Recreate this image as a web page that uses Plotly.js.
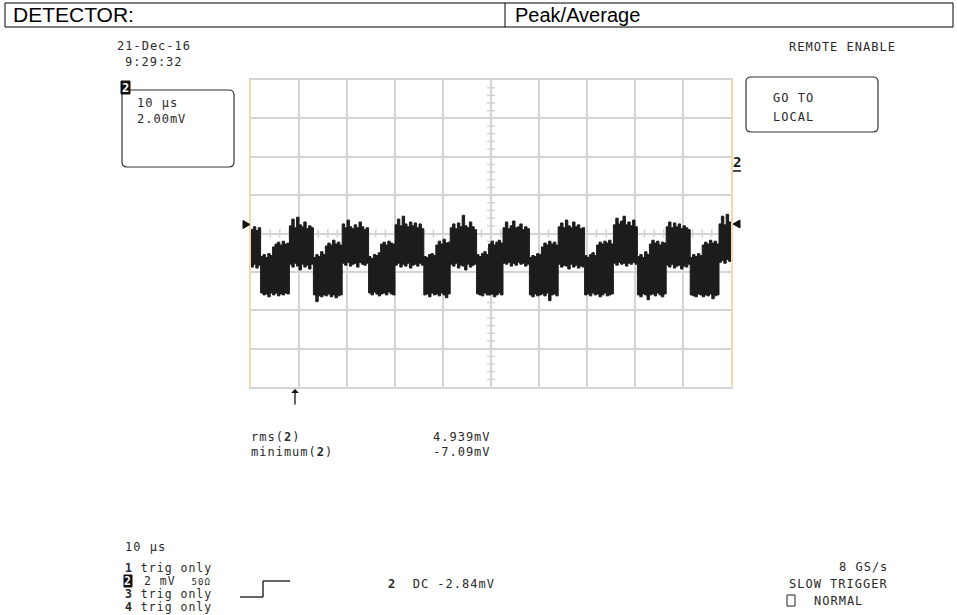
<!DOCTYPE html>
<html>
<head>
<meta charset="utf-8">
<script src="https://cdn.plot.ly/plotly-3.0.1.min.js"></script>
<style>
html,body{margin:0;padding:0;background:#fff;}
#chart{width:957px;height:615px;}
text[style*="DejaVu Sans Mono"]{letter-spacing:1px;}
</style>
</head>
<body>
<div id="chart"></div>
<script>
// ---- Data (mV vs µs; 0.5 µs per sample) ----
const sampleInterval = 0.5; // µs
const timeDivs = 10, timePerDiv = 10;   // 10 µs/div
const voltDivs = 8, voltPerDiv = 2;     // 2 mV/div

// upper envelope of the noisy trace (mV)
const upperEnv = [
  0.2, 0.35, 0.15, 0.3,
  -1.2, -1.1, -1.25, -1.05, -1.15,
  -0.7, -0.55, -0.45, -0.6, -0.4, -0.55, -0.5,
  0.4, 0.75, 0.3, 0.85, 0.45, 0.35, 0.6, 0.25, 0.4, 0.3,
  -1.25, -1.1, -1.2, -0.95, -1.1,
  -0.65, -0.5, -0.6, -0.35, -0.55, -0.45, -0.6,
  0.5, 0.3, 0.7, 0.35, 0.25, 0.45, 0.3, 0.6, 0.35, 0.2, 0.3,
  -1.2, -1.3, -1.1, -1.15, -1.0,
  -0.55, -0.45, -0.6, -0.4, -0.5, -0.55,
  0.45, 0.75, 0.4, 0.9, 0.5, 0.35, 0.6, 0.4, 0.55, 0.3, 0.5, 0.25,
  -1.2, -1.25, -1.1, -1.05, -1.15,
  -0.6, -0.4, -0.55, -0.3, -0.5, -0.45,
  0.3, 0.5, 0.25, 0.55, 0.35, 0.95, 0.4, 0.3, 0.6, 0.35, 0.2,
  -1.1, -1.2, -1.05, -0.95, -1.1,
  -0.55, -0.4, -0.6, -0.45, -0.35, -0.5,
  0.3, 0.6, 0.25, 0.4, 0.65, 0.3, 0.35, 0.5, 0.2, 0.35, 0.25,
  -1.25, -1.15, -1.2, -1.05, -1.1,
  -0.7, -0.5, -0.6, -0.4, -0.55, -0.45, -0.6,
  0.35, 0.55, 0.3, 0.7, 0.4, 0.3, 0.6, 0.35, 0.45, 0.25, 0.3,
  -1.15, -1.25, -1.1, -1.0, -1.15,
  -0.6, -0.45, -0.55, -0.4, -0.5, -0.35, -0.55,
  0.45, 0.8, 0.5, 0.65, 0.9, 0.45, 0.6, 0.4, 0.7, 0.35,
  -1.2, -1.1, -1.25, -0.95, -1.1,
  -0.55, -0.35, -0.5, -0.4, -0.6, -0.45, -0.5,
  0.35, 0.6, 0.3, 0.55, 0.35, 0.5, 0.25, 0.4, 0.3, 0.2,
  -1.25, -1.1, -1.2, -1.05, -1.15,
  -0.6, -0.45, -0.55, -0.35, -0.5, -0.4, -0.55,
  0.5, 0.9, 0.45, 1.0, 0.6, 0.55
];
// lower envelope of the noisy trace (mV)
const lowerEnv = [
  -1.75, -1.6, -1.8, -1.65,
  -3.1, -3.2, -3.15, -3.3, -3.1,
  -3.2, -3.1, -3.25, -3.15, -3.2, -3.1, -3.15,
  -1.6, -1.75, -1.55, -1.7, -1.9, -1.6, -1.75, -1.65, -1.85, -1.6,
  -3.2, -3.55, -3.25, -3.3, -3.2,
  -3.25, -3.15, -3.3, -3.2, -3.35, -3.25, -3.2,
  -1.55, -1.65, -1.5, -1.7, -1.6, -1.55, -1.75, -1.5, -1.6, -1.65, -1.55,
  -3.1, -3.2, -3.05, -3.15, -3.25,
  -3.15, -3.1, -3.2, -3.05, -3.15, -3.2,
  -1.65, -1.55, -1.75, -1.6, -1.7, -1.55, -1.8, -1.65, -1.6, -1.7, -1.55, -1.65,
  -3.2, -3.15, -3.3, -3.1, -3.2,
  -3.15, -3.25, -3.1, -3.2, -3.35, -3.15,
  -1.6, -1.7, -1.55, -1.8, -1.65, -1.7, -1.9, -1.6, -1.75, -1.65, -1.6,
  -3.15, -3.2, -3.25, -3.1, -3.2,
  -3.2, -3.15, -3.3, -3.2, -3.1, -3.2,
  -1.55, -1.6, -1.5, -1.7, -1.55, -1.65, -1.5, -1.6, -1.55, -1.7, -1.6,
  -3.2, -3.3, -3.15, -3.25, -3.2,
  -3.15, -3.25, -3.1, -3.5, -3.2, -3.15, -3.25,
  -1.6, -1.75, -1.65, -1.7, -1.85, -1.6, -1.75, -1.65, -1.8, -1.7, -1.75,
  -3.2, -3.15, -3.25, -3.1, -3.2,
  -3.15, -3.3, -3.2, -3.1, -3.25, -3.2, -3.15,
  -1.55, -1.65, -1.5, -1.6, -1.55, -1.7, -1.55, -1.6, -1.5, -1.6,
  -3.2, -3.3, -3.15, -3.2, -3.45,
  -3.2, -3.15, -3.25, -3.1, -3.2, -3.3, -3.15,
  -1.65, -1.75, -1.6, -1.8, -1.7, -1.65, -1.85, -1.7, -1.75, -1.6,
  -3.2, -3.25, -3.3, -3.15, -3.2,
  -3.3, -3.2, -3.25, -3.15, -3.4, -3.25, -3.2,
  -1.5, -1.4, -1.55, -1.35, -1.45, -1.4
];
const timeAxis = upperEnv.map((_, i) => i * sampleInterval);

// ---- Text content ----
const headerLabels = ['DETECTOR:', 'Peak/Average'];
const dateText = '21-Dec-16', timeText = '9:29:32';
const traceBoxLines = ['10 µs', '2.00mV'];
const remoteText = 'REMOTE ENABLE';
const localBtn = ['GO TO', 'LOCAL'];
const measNames = ['rms(<b>2</b>)', 'minimum(<b>2</b>)'];
const measValues = ['4.939mV', '-7.09mV'];
const timebaseText = '10 µs';
const channelLines = ['<b>1</b> trig only', '', '<b>3</b> trig only', '<b>4</b> trig only'];
const ch2Text = '2 mV  <span style="font-size:9px">50Ω</span>';
const trigText = '<b>2</b>  DC -2.84mV';
const rightInfo = ['8 GS/s', 'SLOW TRIGGER', 'NORMAL'];

// ---- geometry helpers (pixel -> paper) ----
const L = 251, R = 731, T = 80, B = 387;
const px = x => (x - L) / (R - L);
const py = y => (B - y) / (B - T);
const mono = 'DejaVu Sans Mono';
const ink = '#2a2a2a';

function txt(text, x, y, opts = {}) {
  return Object.assign({
    text, x: px(x), y: py(y), xref: 'paper', yref: 'paper',
    xanchor: 'left', yanchor: 'middle', showarrow: false,
    font: {family: mono, size: 12, color: ink}, borderpad: 0
  }, opts);
}
const small = {font: {family: mono, size: 11.5, color: ink}};
function rrect(x0, y0, x1, y1, r) {
  const p = (x, y) => px(x) + ',' + py(y);
  return 'M' + p(x0 + r, y0) + ' L' + p(x1 - r, y0) + ' Q' + p(x1, y0) + ' ' + p(x1, y0 + r) +
    ' L' + p(x1, y1 - r) + ' Q' + p(x1, y1) + ' ' + p(x1 - r, y1) +
    ' L' + p(x0 + r, y1) + ' Q' + p(x0, y1) + ' ' + p(x0, y1 - r) +
    ' L' + p(x0, y0 + r) + ' Q' + p(x0, y0) + ' ' + p(x0 + r, y0) + ' Z';
}
function pline(x0, y0, x1, y1, color, w) {
  return {type: 'line', xref: 'paper', yref: 'paper', x0: px(x0), y0: py(y0), x1: px(x1), y1: py(y1),
    line: {color: color || '#000', width: w || 1}};
}
function prect(x0, y0, x1, y1, fill, lineColor) {
  return {type: 'rect', xref: 'paper', yref: 'paper', x0: px(x0), y0: py(y0), x1: px(x1), y1: py(y1),
    fillcolor: fill || 'rgba(0,0,0,0)', line: {color: lineColor || '#000', width: 1}};
}

const shapes = [];
// header table
shapes.push(prect(5, 3, 953, 27, 'rgba(0,0,0,0)', '#000'));
shapes.push(pline(505, 3, 505, 27, '#000', 1));
// trace info box and local button
shapes.push({type: 'path', xref: 'paper', yref: 'paper', path: rrect(122, 90, 234, 167, 5), line: {color: '#333', width: 1.2}});
shapes.push(prect(121, 81, 130, 94, '#111', '#111'));
shapes.push({type: 'path', xref: 'paper', yref: 'paper', path: rrect(746, 77, 878, 132, 5), line: {color: '#333', width: 1.2}});
// underline of channel marker
shapes.push(pline(733, 171, 741, 171, '#111', 1.5));
// trigger level markers
shapes.push({type: 'path', xref: 'paper', yref: 'paper', fillcolor: '#111', line: {color: '#111', width: 1},
  path: 'M' + px(243) + ',' + py(220.5) + ' L' + px(250) + ',' + py(224.5) + ' L' + px(243) + ',' + py(228.5) + ' Z'});
shapes.push({type: 'path', xref: 'paper', yref: 'paper', fillcolor: '#111', line: {color: '#111', width: 1},
  path: 'M' + px(740) + ',' + py(220) + ' L' + px(733) + ',' + py(224) + ' L' + px(740) + ',' + py(228) + ' Z'});
// graticule minor ticks on centre lines
for (let k = 1; k < timeDivs * 5; k++) {
  if (k % 5 === 0) continue;
  const t = k * timePerDiv / 5;
  shapes.push({type: 'line', xref: 'x', yref: 'y', x0: t, x1: t, y0: -0.21, y1: 0.21, layer: 'below', line: {color: '#d0d0d0', width: 1.5}});
}
for (let k = 1; k < voltDivs * 5; k++) {
  if (k % 5 === 0) continue;
  const v = -voltDivs / 2 * voltPerDiv + k * voltPerDiv / 5;
  shapes.push({type: 'line', xref: 'x', yref: 'y', x0: 49.2, x1: 50.8, y0: v, y1: v, layer: 'below', line: {color: '#d0d0d0', width: 1.5}});
}
// bottom: channel 2 inverted label, trigger slope icon, normal box
shapes.push(prect(124, 575, 132, 587, '#111', '#111'));
shapes.push(pline(240, 597, 263, 597, '#111', 1.3));
shapes.push(pline(263, 597, 263, 581, '#111', 1.3));
shapes.push(pline(263, 581, 290, 581, '#111', 1.3));
shapes.push(prect(787, 595, 795, 606, 'rgba(0,0,0,0)', '#222'));

const ann = [
  txt(headerLabels[0], 12, 15, {font: {family: 'Liberation Sans, Arial', size: 21, color: '#000'}}),
  txt(headerLabels[1], 514, 15, {font: {family: 'Liberation Sans, Arial', size: 20, color: '#000'}}),
  txt(dateText, 116, 46),
  txt(timeText, 124, 62),
  txt('<b>2</b>', 121, 88, {font: {family: mono, size: 12, color: '#fff'}}),
  txt(traceBoxLines[0], 136, 103),
  txt(traceBoxLines[1], 136, 119),
  txt(remoteText, 788, 47),
  txt(localBtn[0], 772, 98),
  txt(localBtn[1], 772, 117),
  txt('<b>2</b>', 732, 162, {font: {family: mono, size: 14, color: '#111'}}),
  txt(measNames[0], 250, 437),
  txt(measNames[1], 250, 452),
  txt(measValues[0], 432, 437),
  txt(measValues[1], 432, 452),
  txt(timebaseText, 124, 547),
  txt(channelLines[0], 124, 568, small),
  txt('<b>2</b>', 123, 581, {font: {family: mono, size: 11.5, color: '#fff'}}),
  txt(ch2Text, 143, 581, small),
  txt(channelLines[2], 124, 594, small),
  txt(channelLines[3], 124, 607, small),
  txt(trigText, 387, 584),
  txt(rightInfo[0], 838, 567),
  txt(rightInfo[1], 788, 584),
  txt(rightInfo[2], 813, 601),
  {x: px(295), y: py(389), xref: 'paper', yref: 'paper', text: '', showarrow: true,
   ax: 0, ay: 17, arrowhead: 1, arrowsize: 1, arrowwidth: 1.3, arrowcolor: '#111'}
];

const traces = [
  {x: timeAxis, y: lowerEnv, mode: 'lines', line: {shape: 'hv', color: '#1c1c1c', width: 1}, hoverinfo: 'skip'},
  {x: timeAxis, y: upperEnv, mode: 'lines', fill: 'tonexty', fillcolor: '#1c1c1c',
   line: {shape: 'hv', color: '#1c1c1c', width: 1}, hoverinfo: 'skip'}
];

const layout = {
  width: 957, height: 615,
  margin: {l: L, r: 957 - R, t: T, b: 615 - B, pad: 0},
  paper_bgcolor: '#fff', plot_bgcolor: '#fff',
  showlegend: false,
  xaxis: {range: [0, timeDivs * timePerDiv], dtick: timePerDiv, tick0: 0, showticklabels: false, ticks: '',
    showgrid: true, gridcolor: '#d4d4d4', gridwidth: 2, zeroline: false,
    showline: true, linecolor: '#d4d4d4', linewidth: 2, mirror: true, fixedrange: true},
  yaxis: {range: [-voltDivs / 2 * voltPerDiv, voltDivs / 2 * voltPerDiv], dtick: voltPerDiv, tick0: 0,
    showticklabels: false, ticks: '', showgrid: true, gridcolor: '#d4d4d4', gridwidth: 2, zeroline: false,
    showline: true, linecolor: '#f6d9a6', linewidth: 2, mirror: true, fixedrange: true},
  shapes: shapes,
  annotations: ann
};

Plotly.newPlot('chart', traces, layout, {staticPlot: true, displayModeBar: false});
</script>
</body>
</html>
